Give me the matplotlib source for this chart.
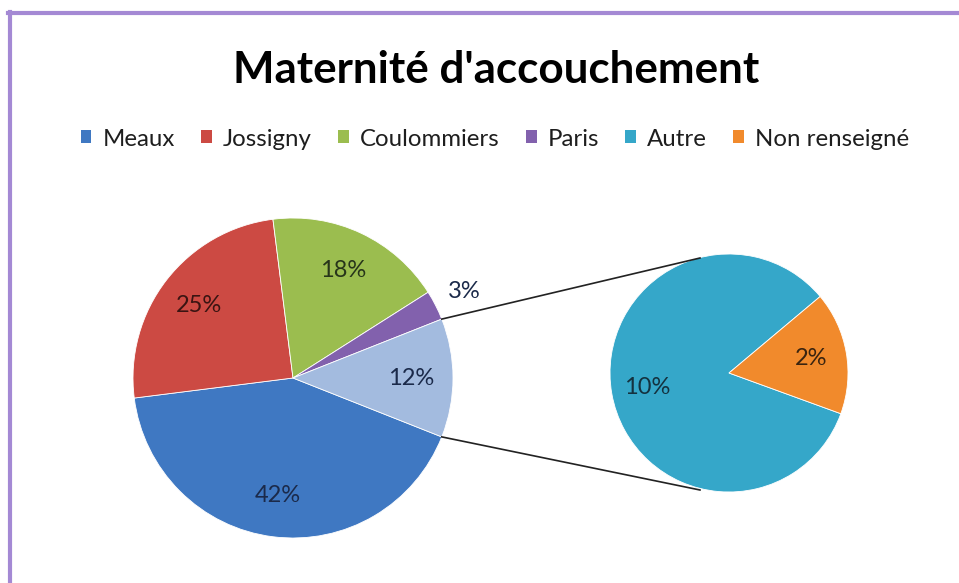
import matplotlib.pyplot as plt
from matplotlib.patches import Patch
from matplotlib.lines import Line2D
import numpy as np

# main pie data (clockwise from Meaux)
main_labels = ["Meaux", "Jossigny", "Coulommiers", "Paris", "Autres"]
main_values = [42, 25, 18, 3, 12]
main_colors = ["#3f78c2", "#cc4a43", "#9bbd4f", "#8261ad", "#a3bbdf"]
main_text_colors = ["#1b2a4a", "#3a1412", "#27351a", "#1b2a4a", "#1b2a4a"]

# secondary pie data (split of the "Autres" slice)
sub_labels = ["Autre", "Non renseigné"]
sub_values = [10, 2]
sub_colors = ["#35a7c9", "#f18a2c"]
sub_text_colors = ["#14323f", "#3a2410"]

legend_labels = ["Meaux", "Jossigny", "Coulommiers", "Paris", "Autre", "Non renseigné"]
legend_colors = main_colors[:4] + sub_colors

W, H = 959, 583
fig = plt.figure(figsize=(W / 100, H / 100), dpi=100)
fig.patch.set_facecolor("white")

font = "Lato"

# axes positioned in pixels
def px_axes(cx, cy, r):
    return fig.add_axes([(cx - r) / W, 1 - (cy + r) / H, 2 * r / W, 2 * r / H])

ax1 = px_axes(293, 378, 160)
ax2 = px_axes(729, 373, 119)

total = sum(main_values)
other_frac = main_values[-1] / total
start1 = 360 * other_frac / 2 + 360 * (1 - other_frac)  # other slice centred on 0 deg

w1, t1, a1 = ax1.pie(main_values, colors=main_colors, startangle=start1,
                     counterclock=False, autopct="%1.0f%%", pctdistance=0.74,
                     wedgeprops=dict(linewidth=0.6, edgecolor="white"),
                     textprops=dict(fontsize=17, fontfamily=font))
ax1.set_xlim(-1, 1)
ax1.set_ylim(-1, 1)
ax1.set_aspect("equal")
ax1.axis("off")
for t, c in zip(a1, main_text_colors):
    t.set_color(c)

# move the small Paris label outside
wp = w1[3]
mid = np.deg2rad((wp.theta1 + wp.theta2) / 2)
a1[3].set_position((1.2 * np.cos(mid), 1.19 * np.sin(mid)))

sub_total = sum(sub_values)
w2, t2, a2 = ax2.pie(sub_values, colors=sub_colors, startangle=40,
                     autopct=lambda p: f"{p * sub_total / total:.0f}%", pctdistance=0.7,
                     wedgeprops=dict(linewidth=0.6, edgecolor="white"),
                     textprops=dict(fontsize=17, fontfamily=font))
ax2.set_xlim(-1, 1)
ax2.set_ylim(-1, 1)
ax2.set_aspect("equal")
ax2.axis("off")
for t, c in zip(a2, sub_text_colors):
    t.set_color(c)

# connector lines from the "Autres" slice to the secondary pie
wo = w1[-1]
for ang, (tx, ty) in zip([wo.theta2, wo.theta1], [(700, 258), (700, 490)]):
    sx = 293 + 160 * np.cos(np.deg2rad(ang))
    sy = 378 - 160 * np.sin(np.deg2rad(ang))
    fig.add_artist(Line2D([sx / W, tx / W], [1 - sy / H, 1 - ty / H],
                          transform=fig.transFigure, color="#222222", lw=1.2))

fig.text(0.517, 1 - 70 / H, "Maternité d'accouchement", ha="center", va="center",
         fontsize=31.7, fontweight="bold", fontfamily=font, color="black")

handles = [Patch(facecolor=c, edgecolor="none") for c in legend_colors]
fig.legend(handles, legend_labels, loc="center", bbox_to_anchor=(0.516, 1 - 139 / H),
           ncol=6, frameon=False, handlelength=0.45, handleheight=0.45,
           handletextpad=0.45, columnspacing=1.1, labelcolor="#1e1e1e",
           prop=dict(family=font, size=17.3))

# purple frame
frame_col = "#a489d4"
fig.add_artist(Line2D([8 / W, 1], [1 - 13 / H, 1 - 13 / H], transform=fig.transFigure,
                      color=frame_col, lw=3))
fig.add_artist(Line2D([10 / W, 10 / W], [0, 1 - 12 / H], transform=fig.transFigure,
                      color=frame_col, lw=3))

fig.savefig("out.png", dpi=100)
